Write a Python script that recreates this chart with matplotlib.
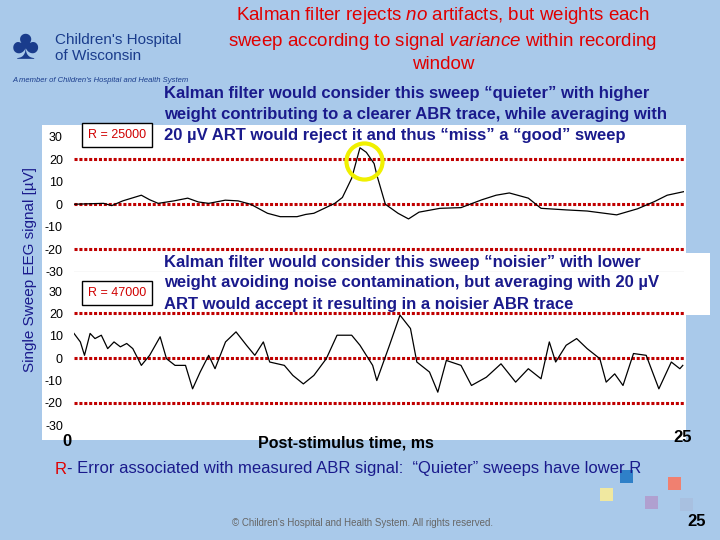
import matplotlib.pyplot as plt
from matplotlib.patches import Rectangle

plt.rcParams['font.family'] = ['Liberation Sans', 'DejaVu Sans']
plt.rcParams['axes.unicode_minus'] = False
plt.rcParams['mathtext.fontset'] = 'custom'
plt.rcParams['mathtext.it'] = 'Liberation Sans:italic'
plt.rcParams['mathtext.rm'] = 'Liberation Sans'

# top sweep (R = 25000)
t_top = [0, 1.21, 1.55, 2.0, 2.76, 3.1, 3.45, 4.1, 4.66, 5.1, 5.52, 6.2, 6.72, 7.24, 7.93, 8.45, 9.14, 9.5,
         9.83, 10.69, 11.0, 11.38, 11.72, 11.98, 12.3, 12.41, 12.76, 13.28, 13.71, 14.14, 15.0, 15.86,
         16.72, 17.3, 17.84, 18.62, 19.14, 20.17, 21.03, 22.24, 23.1, 23.79, 24.31, 25.0]
v_top = [0, 0.4, -0.6, 1.5, 4.0, 2.0, 0.4, 1.5, 2.7, 1.0, 0.4, 1.8, 1.5, 0, -4, -5.5, -5.5, -4.5,
         -4, 0.4, 3, 11.5, 25, 23, 18, 13, 0, -4, -6.5, -3.5, -1.8, -1.5,
         2, 4, 5, 2.7, -1.8, -2.5, -3, -4.7, -2, 1.2, 4, 5.6]

# bottom sweep (R = 47000)
t_bot = [0, 0.26, 0.43, 0.66, 0.86, 1.12, 1.38, 1.64, 1.9, 2.16, 2.41, 2.76, 3.1, 3.53, 3.79, 4.14,
         4.57, 4.86, 5.17, 5.52, 5.78, 6.21, 6.64, 7.07, 7.41, 7.76, 8.02, 8.62, 8.97, 9.4, 9.83,
         10.34, 10.78, 11.38, 11.72, 12.24, 12.41, 12.93, 13.36, 13.79, 14.05, 14.57, 14.91, 15.26,
         15.86, 16.29, 16.9, 17.5, 18.1, 18.62, 19.14, 19.48, 19.74, 20.17, 20.6, 21.03, 21.55,
         21.81, 22.16, 22.5, 22.93, 23.45, 23.97, 24.48, 24.83, 24.95]
v_bot = [11, 7.2, 1.2, 11, 8.7, 10.2, 4.2, 7.2, 5, 6.5, 4.2, -3.3, 1.2, 9.5, -0.3, -3.3,
         -3.3, -13.8, -6.3, 1.2, -4.8, 7.2, 11.7, 5.7, 1.2, 7.2, -1.8, -3.3, -7.8, -11.6, -7.8,
         -0.3, 10.2, 10.2, 5.7, -3.3, -10.1, 5.7, 19.2, 13.2, -1.8, -6.3, -15.3, -1.1,
         -3.3, -12.3, -8.6, -2.6, -10.8, -4.8, -9.3, 7.2, -1.8, 5.7, 8.7, 4.2, -0.3,
         -10.8, -7.1, -12.3, 2, 1.2, -13.8, -1.8, -4.8, -3.3]

yticks = [30, 20, 10, 0, -10, -20, -30]
ref_lines = [20, 0, -20]

top_note = ['Kalman filter would consider this sweep \u201cquieter\u201d with higher',
            'weight contributing to a clearer ABR trace, while averaging with',
            '20 \u00b5V ART would reject it and thus \u201cmiss\u201d a \u201cgood\u201d sweep']
bot_note = ['Kalman filter would consider this sweep \u201cnoisier\u201d with lower',
            'weight avoiding noise contamination, but averaging with 20 \u00b5V',
            'ART would accept it resulting in a noisier ABR trace']

bg = '#a9c9ea'
navy = '#1a1a8c'
W, H = 720, 540

fig = plt.figure(figsize=(7.2, 5.4), dpi=100, facecolor=bg)

def fx(px):
    return px / W

def fy(py):
    return 1 - py / H

# white chart panel
fig.patches.append(Rectangle((fx(42), fy(440)), fx(644), 315 / H, transform=fig.transFigure,
                             facecolor='white', edgecolor='none', zorder=-10))
# white box behind lower note
fig.patches.append(Rectangle((fx(160), fy(315)), fx(550), 62 / H, transform=fig.transFigure,
                             facecolor='white', edgecolor='none', zorder=-9))

def panel(top_px, bot_px, t, v):
    ax = fig.add_axes([fx(74), fy(bot_px), fx(610), (bot_px - top_px) / H])
    ax.set_facecolor('none')
    for y in ref_lines:
        ax.axhline(y, color='#c00000', ls=(0, (1, 0.6)), lw=2.2, zorder=1)
    ax.plot(t, v, color='black', lw=0.9, zorder=2)
    ax.set_xlim(0, 25)
    ax.set_ylim(-30, 30)
    ax.set_yticks(yticks)
    ax.tick_params(axis='y', length=0, labelsize=9, pad=8)
    ax.set_xticks([])
    for s in ax.spines.values():
        s.set_visible(False)
    return ax

ax1 = panel(136.5, 272, t_top, v_top)
ax2 = panel(291, 425, t_bot, v_bot)
ax1.axhline(-30, color='#888888', lw=0.8)

# yellow circle on the peak
ax1.plot([11.9], [19], 'o', ms=26, mfc='none', mec='#f0f000', mew=3, zorder=3)

# R boxes
fig.text(fx(117), fy(135), 'R = 25000', color='#d00000', fontsize=9, ha='center', va='center',
         bbox=dict(facecolor='white', edgecolor='black', boxstyle='square,pad=0.5'))
fig.text(fx(117), fy(293), 'R = 47000', color='#d00000', fontsize=9, ha='center', va='center',
         bbox=dict(facecolor='white', edgecolor='black', boxstyle='square,pad=0.5'))

fig.text(fx(443), fy(39), 'Kalman filter rejects $\\mathit{no}$ artifacts, but weights each\n'
         'sweep according to signal $\\mathit{variance}$ within recording\nwindow',
         color='#e00000', fontsize=13.5, ha='center', va='center', linespacing=1.3)

for i, line in enumerate(top_note):
    fig.text(fx(164), fy(93 + 21.5 * i), line, color=navy, fontsize=12, fontweight='bold',
             ha='left', va='center')
for i, line in enumerate(bot_note):
    fig.text(fx(164), fy(262 + 21 * i), line, color=navy, fontsize=12, fontweight='bold',
             ha='left', va='center')

fig.text(fx(30), fy(270), 'Single Sweep EEG signal [\u00b5V]', rotation=90, color=navy,
         fontsize=11, ha='center', va='center')
fig.text(fx(67), fy(442), '0', fontsize=12, fontweight='bold', ha='center', va='center')
fig.text(fx(683), fy(437), '25', fontsize=12, fontweight='bold', ha='center', va='center')
fig.text(fx(346), fy(443), 'Post-stimulus time, ms', fontsize=11.5, fontweight='bold', ha='center', va='center')

fig.text(fx(55), fy(469), 'R', color='#e00000', fontsize=12, ha='left', va='center')
fig.text(fx(67), fy(469), '- Error associated with measured ABR signal:  \u201cQuieter\u201d sweeps have lower R',
         color=navy, fontsize=12, ha='left', va='center')

# logo text
fig.text(fx(12), fy(48), '\u2663', color='#1a3c8c', fontsize=30, ha='left', va='center')
fig.text(fx(55), fy(48), "Children's Hospital\nof Wisconsin", color='#1a3c8c', fontsize=11,
         ha='left', va='center', linespacing=1.1)
fig.text(fx(12), fy(80), 'A member of Children\'s Hospital and Health System', color='#1a3c8c',
         fontsize=5.5, style='italic', ha='left', va='center')

# decorative squares
for x0, y0, c in [(620, 470, '#2f80c8'), (668, 477, '#f08070'), (600, 488, '#f0e8a0'),
                  (645, 496, '#b0a0d0'), (680, 498, '#a8c0e0')]:
    fig.patches.append(Rectangle((fx(x0), fy(y0 + 13)), 13 / W, 13 / H, transform=fig.transFigure,
                                 facecolor=c, edgecolor='none'))

fig.text(fx(362), fy(523), '\u00a9 Children\'s Hospital and Health System. All rights reserved.',
         color='#666666', fontsize=7, ha='center', va='center')
fig.text(fx(697), fy(521), '25', fontsize=12, fontweight='bold', ha='center', va='center')

fig.savefig('out.png', dpi=100, facecolor=bg)
